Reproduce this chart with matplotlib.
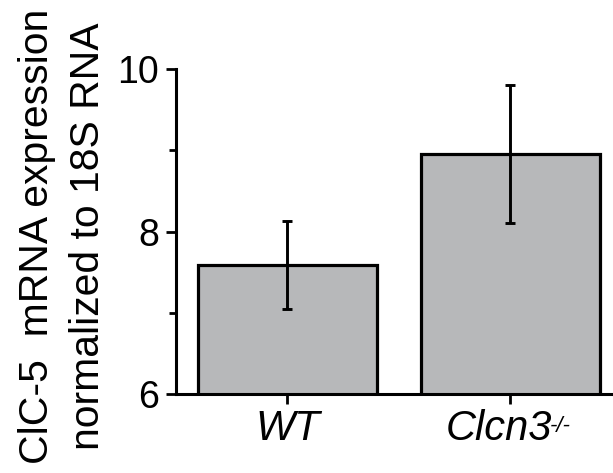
import matplotlib
matplotlib.use("Agg")
import matplotlib.pyplot as plt
from matplotlib.ticker import MultipleLocator
from matplotlib.transforms import ScaledTranslation

plt.rcParams['font.family'] = ['Liberation Sans', 'DejaVu Sans']

groups = ['WT', 'Clcn3']
group_sup = ['', '-/-']
means = [7.59, 8.95]
errors = [0.54, 0.85]

fig = plt.figure(figsize=(6.13, 4.73), dpi=100)
ax = fig.add_axes([0.287, 0.167, 0.713, 0.687])

x = range(len(means))
ax.bar(x, means, width=0.8, bottom=0, color='#b7b8ba', edgecolor='black', linewidth=2.3, zorder=2)
ax.errorbar(x, means, yerr=errors, fmt='none', ecolor='black', elinewidth=2.1,
            capsize=3.8, capthick=2.1, zorder=3)

ax.set_ylim(6, 10)
ax.set_xlim(-0.5, 1.46)
ax.yaxis.set_major_locator(MultipleLocator(2))
ax.yaxis.set_minor_locator(MultipleLocator(1))
ax.set_xticks(list(x))
ax.set_xticklabels(groups, fontsize=30, fontstyle='italic')
ax.tick_params(axis='y', which='major', labelsize=27, width=2, length=7, pad=5)
ax.tick_params(axis='y', which='minor', width=2, length=5)
ax.tick_params(axis='x', width=2, length=7, pad=4)

for s in ['top', 'right']:
    ax.spines[s].set_visible(False)
for s in ['left', 'bottom']:
    ax.spines[s].set_linewidth(2.2)

yl = ax.set_ylabel('ClC-5  mRNA expression\nnormalized to 18S RNA', fontsize=29.4,
                   linespacing=1.42, labelpad=7.5)
yl.set_y(0.485)

# shift the Clcn3 label a little left and add the superscript
lab = ax.get_xticklabels()[1]
lab.set_transform(lab.get_transform() + ScaledTranslation(-12 / 100, 0, fig.dpi_scale_trans))
fig.canvas.draw()
for lab, sup in zip(ax.get_xticklabels(), group_sup):
    if sup:
        bb = lab.get_window_extent()
        fig.text((bb.x1 - 2) / fig.bbox.width, (bb.y1 - 7) / fig.bbox.height, sup,
                 fontsize=16, fontstyle='italic', ha='left', va='top')

fig.savefig('out.png', dpi=100)
